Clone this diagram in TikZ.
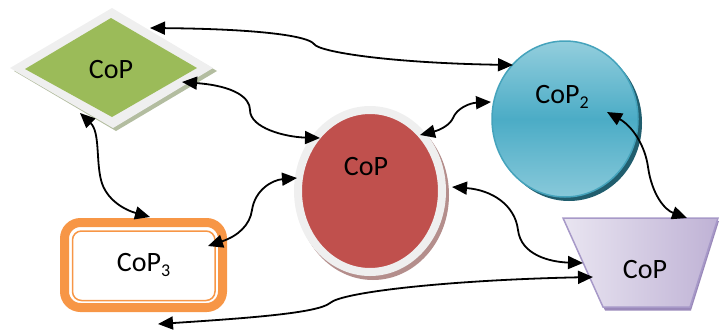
\documentclass[tikz,border=0pt]{standalone}
\usepackage{fontspec}
\setmainfont{Carlito}
\usetikzlibrary{arrows.meta,shapes.geometric,calc}
\definecolor{cgreen}{HTML}{9BBB59}
\definecolor{cgreensh}{HTML}{B3BDA0}
\definecolor{ring}{HTML}{EFEFEF}
\definecolor{cred}{HTML}{C0504D}
\definecolor{credsh}{HTML}{B48E8C}
\definecolor{cblue}{HTML}{4BACC6}
\definecolor{cbluelt}{HTML}{93CEDD}
\definecolor{cbluebd}{HTML}{45A3BC}
\definecolor{cbluesh}{HTML}{215E6E}
\definecolor{cpurlt}{HTML}{E9E5F1}
\definecolor{cpurdk}{HTML}{BFB2D5}
\definecolor{cpurbd}{HTML}{A799C8}
\definecolor{cpursh}{HTML}{9A89BA}
\definecolor{corange}{HTML}{F79646}
\begin{document}
\begin{tikzpicture}[x=1pt,y=-1pt,
  conn/.style={line width=1.8pt,{Triangle[length=15pt,width=13pt]}-{Triangle[length=15pt,width=13pt]}},
  lbl/.style={font=\fontsize{28}{30}\selectfont, inner sep=0pt}]
\useasboundingbox (0,0) rectangle (720,330);
% diamond
\fill[cgreensh] (14,71) -- (115,11) -- (217,71) -- (116,131) -- cycle;
\fill[ring] (10,68) -- (112,8) -- (213,68) -- (113,128) -- cycle;
\fill[cgreen] (25,69) -- (111,18) -- (197,68) -- (112,117) -- cycle;
\node[lbl] (dia) at (111,70) {CoP};
% red ellipse
\fill[credsh] (373,195) ellipse [x radius=76, y radius=85];
\node[ellipse, draw=ring, line width=8pt, fill=cred, minimum width=144pt, minimum height=162pt, inner sep=0pt] (red) at (370,191) {};
\node[lbl] (redt) at (366,167) {CoP};
% blue ellipse
\fill[cbluesh] (569,123) ellipse [x radius=73, y radius=78];
\node[ellipse, draw=cbluebd, line width=1.5pt, top color=cbluelt, bottom color=cbluelt!85!cblue, middle color=cblue, minimum width=146pt, minimum height=156pt, inner sep=0pt] (blue) at (565,119) {};
\node[lbl] (bluet) at (562,97) {CoP\raisebox{-5pt}{\fontsize{18}{18}\selectfont 2}};
% trapezoid
\fill[cpursh] (565,221) -- (719,221) -- (691,310.5) -- (605,310.5) -- cycle;
\path[draw=cpurbd, line width=1.5pt, left color=cpurlt, right color=cpurdk] (563,218) -- (718,218) -- (690,307) -- (603,307) -- cycle;
\node[lbl] (trap) at (645,270) {CoP};
% orange box
\node[draw=corange, line width=9pt, rounded corners=16pt, minimum width=158pt, minimum height=85pt, inner sep=0pt] (box) at (143.5,265) {};
\node[draw=corange, line width=1.5pt, rounded corners=9pt, minimum width=142.5pt, minimum height=69.5pt, inner sep=0pt] (boxin) at (143.75,265.75) {};
\node[lbl] (boxt) at (143.5,265) {CoP\raisebox{-5pt}{\fontsize{18}{18}\selectfont 3}};
% connectors
\draw[conn] ($(dia)+(39,-42)$) .. controls (260,29) and (308,36) .. (314,44) .. controls (319,52) and (390,63) .. ($(blue)+(-52,-54)$);
\draw[conn] ($(dia)+(71,12)$) .. controls (235,86) and (250,98) .. (250,110) .. controls (250,128) and (285,137) .. ($(red)+(-50,-53)$);
\draw[conn] ($(dia)+(-31,43)$) .. controls (100,132) and (96,160) .. (101,180) .. controls (106,200) and (125,210) .. ($(box)+(6.5,-48)$);
\draw[conn] ($(box)+(64.5,-19)$) .. controls (238,236) and (250,225) .. (252,210) .. controls (255,190) and (272,180) .. ($(red)+(-73,-13)$);
\draw[conn] ($(red)+(50,-56)$) .. controls (440,130) and (450,125) .. (453,118) .. controls (457,108) and (470,103) .. ($(blue)+(-74,-17)$);
\draw[conn] ($(blue)+(42,-7)$) .. controls (632,126) and (645,145) .. (648,167) .. controls (652,195) and (665,210) .. ($(trap)+(42,-52)$);
\draw[conn] ($(red)+(82,-4)$) .. controls (492,190) and (515,205) .. (518,230) .. controls (521,255) and (550,262) .. ($(trap)+(-62,-7)$);
\draw[conn] ($(box)+(14.5,59)$) .. controls (250,318) and (318,313) .. (330,303) .. controls (342,292) and (450,280) .. ($(trap)+(-52,7)$);
\end{tikzpicture}
\end{document}
